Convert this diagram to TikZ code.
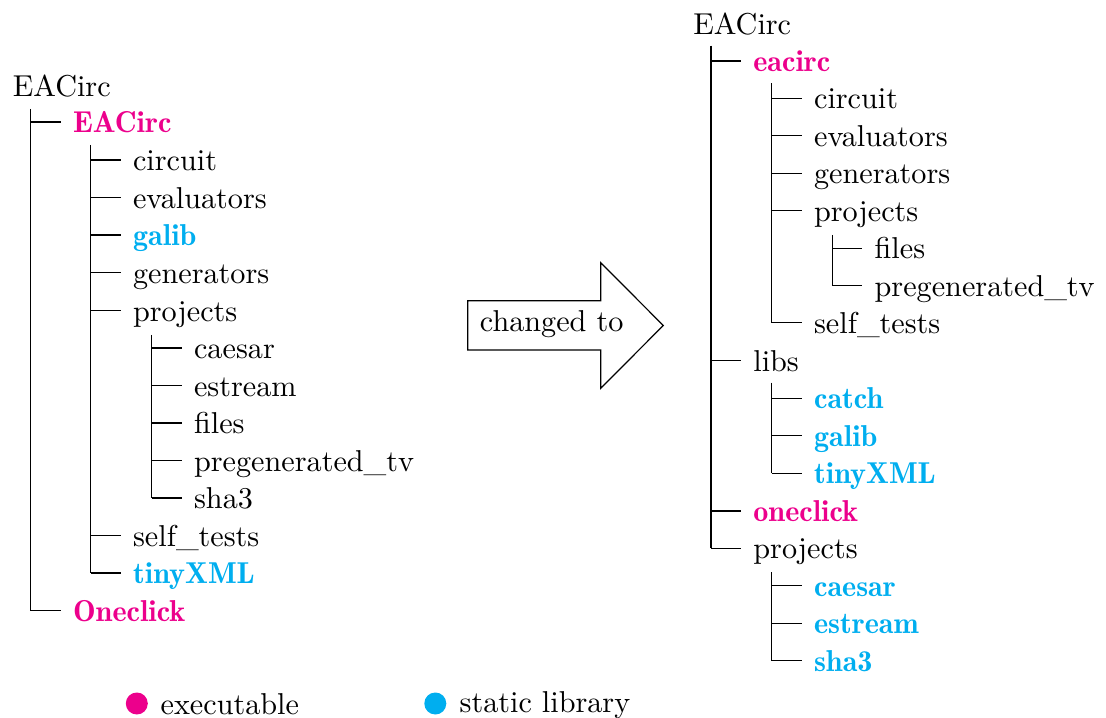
\documentclass[tikz,border=0pt]{standalone}
\usepackage{xcolor}
\definecolor{exe}{HTML}{EC008C}
\definecolor{lib}{HTML}{00AEEF}
\begin{document}
\begin{tikzpicture}[x=0.3311pt,y=-0.3311pt,
  item/.style={anchor=west, inner xsep=3.9pt, inner ysep=0pt, text height=9pt, text depth=2pt},
  exef/.style={text=exe, font=\fontseries{b}\selectfont},
  libf/.style={text=lib, font=\fontseries{b}\selectfont},
  conn/.style={line width=0.4pt},
  leg/.style={anchor=base west, inner sep=0pt}]
\useasboundingbox (0,0) rectangle (1106,718);

% ---------------- left tree ----------------
\node[item] (L0) at (0.5,86.1) {EACirc};
\coordinate (L0r) at (30.7,109);
\node[item,exef] (L1) at (60.7,122) {EACirc};
\coordinate (L1r) at (90.7,145);
\node[item] (La) at (120.7,160) {circuit};
\node[item] (Lb) at (120.7,197.7) {evaluators};
\node[item,libf] (Lc) at (120.7,235) {galib};
\node[item] (Ld) at (120.7,272.6) {generators};
\node[item] (Le) at (120.7,310.7) {projects};
\coordinate (Ler) at (151.7,335);
\node[item] (Lea) at (181.7,348) {caesar};
\node[item] (Leb) at (181.7,385.7) {estream};
\node[item] (Lec) at (181.7,423) {files};
\node[item] (Led) at (181.7,460.7) {pregenerated\_tv};
\node[item] (Lee) at (181.7,498) {sha3};
\node[item] (Lf) at (120.7,535.7) {self\_tests};
\node[item,libf] (Lg) at (120.7,573) {tinyXML};
\node[item,exef] (L2) at (60.7,610.7) {Oneclick};

% ---------------- right tree ----------------
\node[item] (R0) at (680.9,24.4) {EACirc};
\coordinate (R0r) at (711,45.7);
\node[item,exef] (R1) at (741,61) {eacirc};
\coordinate (R1r) at (771.7,83.3);
\node[item] (Ra) at (801.7,98.3) {circuit};
\node[item] (Rb) at (801.7,135.7) {evaluators};
\node[item] (Rc) at (801.7,173.3) {generators};
\node[item] (Rd) at (801.7,210.7) {projects};
\coordinate (Rdr) at (832.3,235);
\node[item] (Rda) at (862.3,248.3) {files};
\node[item] (Rdb) at (862.3,285.7) {pregenerated\_tv};
\node[item] (Re) at (801.7,322.7) {self\_tests};
\node[item] (R2) at (741,360.7) {libs};
\coordinate (R2r) at (771.7,382.7);
\node[item,libf] (R2a) at (801.7,398.3) {catch};
\node[item,libf] (R2b) at (801.7,435.7) {galib};
\node[item,libf] (R2c) at (801.7,473.3) {tinyXML};
\node[item,exef] (R3) at (741,511) {oneclick};
\node[item] (R4) at (741,548.3) {projects};
\coordinate (R4r) at (771.7,572.3);
\node[item,libf] (R4a) at (801.7,585.7) {caesar};
\node[item,libf] (R4b) at (801.7,623.3) {estream};
\node[item,libf] (R4c) at (801.7,660.7) {sha3};

% ---------------- connectors ----------------
\foreach \r/\c in {L0r/L2, L1r/Lg, Ler/Lee, R0r/R4, R1r/Re, Rdr/Rdb, R2r/R2c, R4r/R4c}
  \draw[conn] (\r) -- (\r |- \c.west);
\foreach \r/\c in {L0r/L1, L0r/L2,
  L1r/La, L1r/Lb, L1r/Lc, L1r/Ld, L1r/Le, L1r/Lf, L1r/Lg,
  Ler/Lea, Ler/Leb, Ler/Lec, Ler/Led, Ler/Lee,
  R0r/R1, R0r/R2, R0r/R3, R0r/R4,
  R1r/Ra, R1r/Rb, R1r/Rc, R1r/Rd, R1r/Re,
  Rdr/Rda, Rdr/Rdb,
  R2r/R2a, R2r/R2b, R2r/R2c,
  R4r/R4a, R4r/R4b, R4r/R4c}
  \draw[conn] (\r |- \c.west) -- (\c.west);

% ---------------- arrow ----------------
\draw[conn] (467.7,300.7) -- (600.7,300.7) -- (600.7,262.7) -- (663.3,325.5)
  -- (600.7,388.3) -- (600.7,350) -- (467.7,350) -- cycle;
\node[leg] (chg) at (479.3,331.7) {changed to};

% ---------------- legend ----------------
\fill[exe] (136.8,703.5) circle[radius=11];
\node[leg] (lexe) at (160,715) {executable};
\fill[lib] (435.3,703.5) circle[radius=11];
\node[leg] (llib) at (459,712.8) {static library};
\end{tikzpicture}
\end{document}
